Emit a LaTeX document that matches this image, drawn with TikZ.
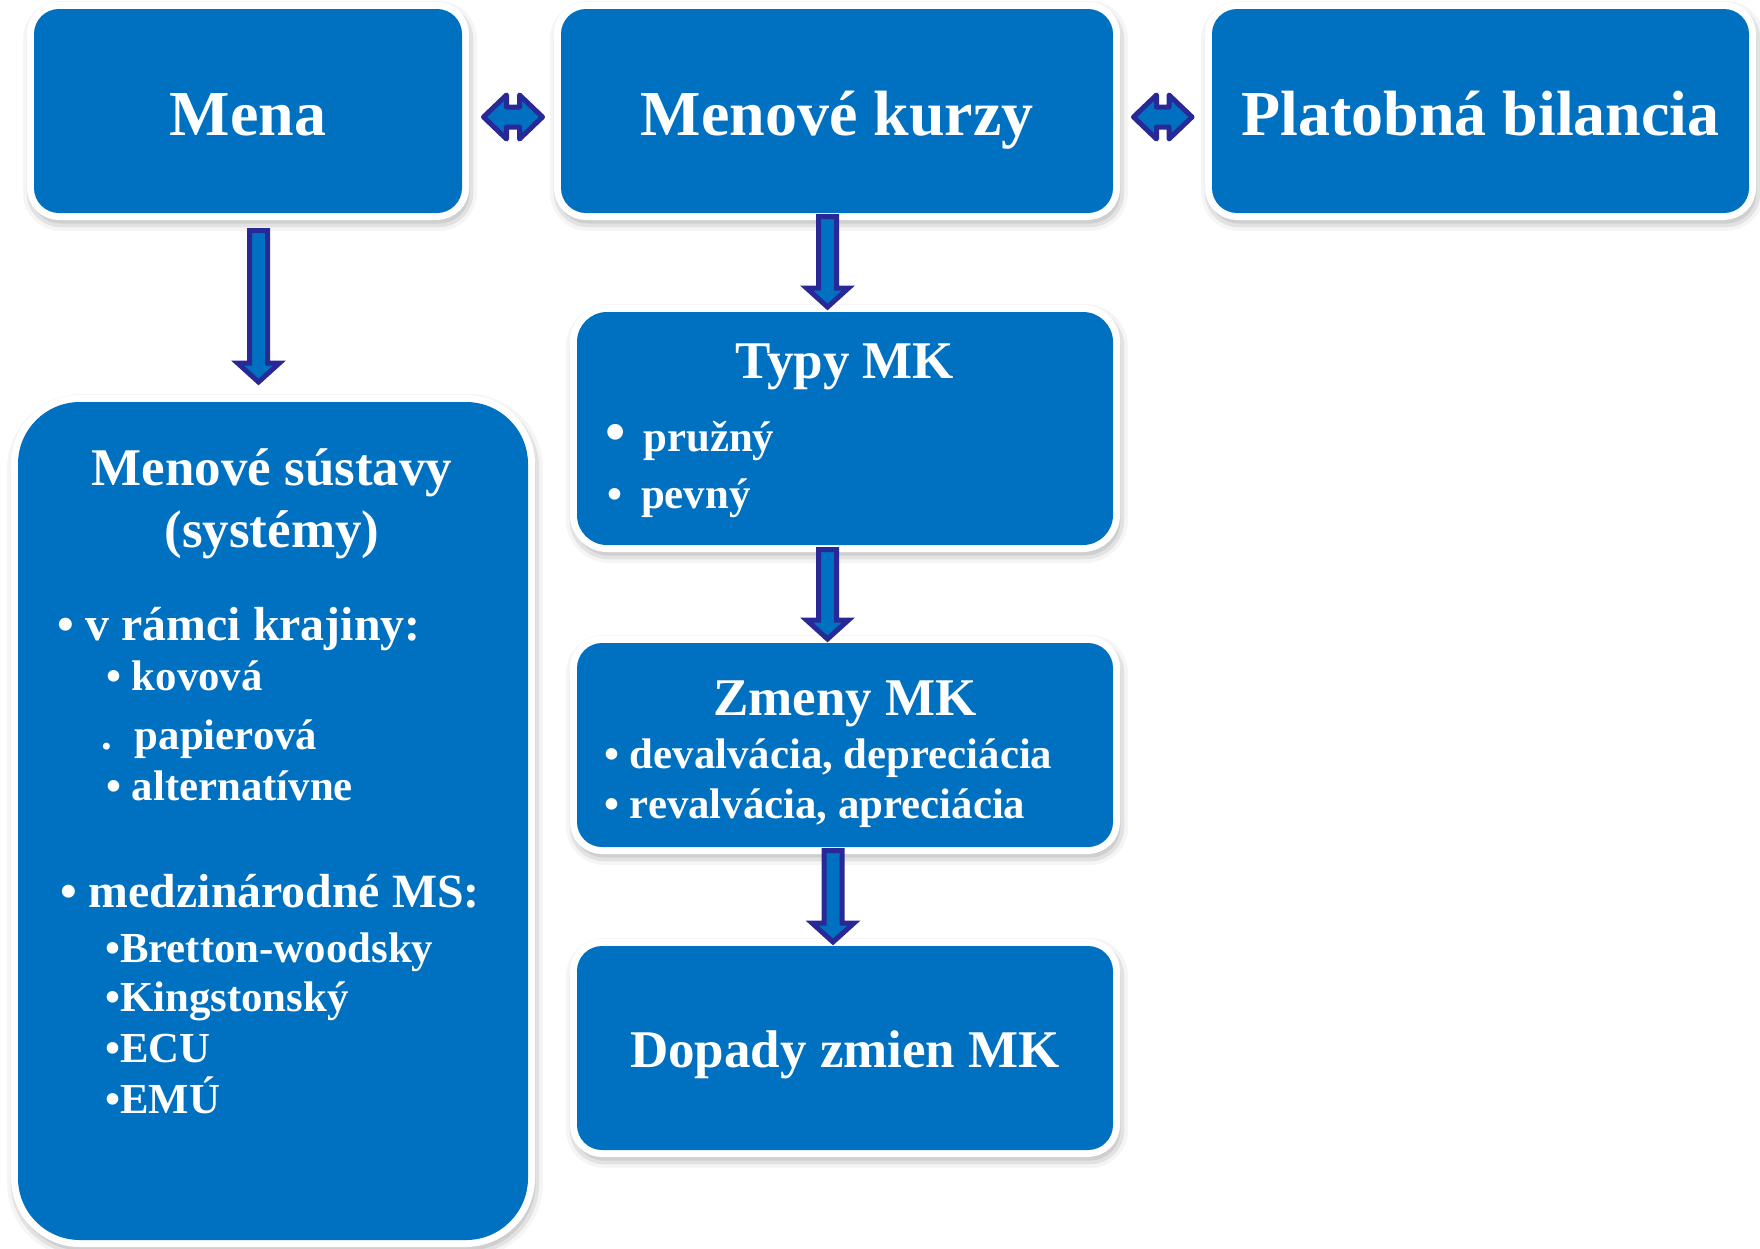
\documentclass[tikz,border=0pt]{standalone}
\usepackage{fontspec}
\setmainfont{Liberation Serif}
\usetikzlibrary{calc,shadows.blur}

\definecolor{boxblue}{RGB}{0,112,192}
\definecolor{arrowline}{RGB}{40,40,150}

\tikzset{
  box/.style={rectangle, rounded corners=25pt, fill=boxblue, inner sep=0pt, outer sep=0pt,
    blur shadow={shadow xshift=2pt, shadow yshift=-5pt, shadow blur radius=13pt, shadow opacity=60},
    preaction={draw=white, line width=14pt}, text=white},
  bigfont/.style={font=\fontsize{64}{70}\selectfont\bfseries, text height=48pt, text depth=0pt},
  headfont/.style={font=\fontsize{53}{58}\selectfont\bfseries},
  head/.style={headfont, text=white, inner sep=0pt, anchor=base},
  item/.style={font=\fontsize{42.8}{46}\selectfont\bfseries, text=white, inner sep=0pt, anchor=base west},
  mainitem/.style={item, font=\fontsize{47.8}{52}\selectfont\bfseries},
  downblock/.style={draw=arrowline, line width=5pt, fill=boxblue,
    to path={let \p1=(\tikztostart), \p2=(\tikztotarget) in
      (\x1-9pt,\y1) -- (\x1+9pt,\y1) -- (\x1+9pt,\y2+19pt) -- (\x1+21pt,\y2+19pt) -- (\x1,\y2)
      -- (\x1-21pt,\y2+19pt) -- (\x1-9pt,\y2+19pt) -- cycle}},
  lrblock/.style={draw=arrowline, line width=5pt, fill=boxblue, line join=round,
    to path={let \p1=(\tikztostart), \p2=(\tikztotarget) in
      (\x1,\y1) -- (\x1+23pt,\y1+22pt) -- (\x1+23pt,\y1+10pt) -- (\x2-23pt,\y1+10pt) -- (\x2-23pt,\y1+22pt)
      -- (\x2,\y1) -- (\x2-23pt,\y1-22pt) -- (\x2-23pt,\y1-10pt) -- (\x1+23pt,\y1-10pt) -- (\x1+23pt,\y1-22pt) -- cycle}}
}

\begin{document}
\begin{tikzpicture}[x=1pt,y=-1pt]
\useasboundingbox (0,0) rectangle (1760,1248);

% top row
\node[box, bigfont, minimum width=428pt, minimum height=204pt] (mena) at (248,111) {Mena};
\node[box, bigfont, minimum width=552pt, minimum height=204pt] (kurzy) at (837,111) {Menové kurzy};
\node[box, bigfont, minimum width=537pt, minimum height=204pt] (bilancia) at (1480.5,111) {Platobná bilancia};

% left column
\node[box, rounded corners=62pt, minimum width=510pt, minimum height=838pt] (sustavy) at (273,821) {};
\node[head] (s1) at (272,485) {Menové sústavy};
\node[head] (s2) at (272,547) {(systémy)};
\node[mainitem] (s3) at (57,640) {• v rámci krajiny:};
\node[item] (s4) at (106,690) {• kovová};
\node[item] (s5) at (101,749) {.\hspace{23pt}papierová};
\node[item] (s6) at (106,800) {• alternatívne};
\node[mainitem] (s7) at (60,907) {• medzinárodné MS:};
\node[item] (s8) at (105,962) {•Bretton-woodsky};
\node[item] (s9) at (105,1011) {•Kingstonský};
\node[item] (s10) at (105,1062) {•ECU};
\node[item] (s11) at (105,1113) {•EMÚ};

% middle column
\node[box, rounded corners=30pt, minimum width=536pt, minimum height=233pt] (typy) at (845,428.5) {};
\node[head] (t1) at (845,378) {Typy MK};
\node[item] (t2) at (605,451) {{\fontsize{58}{60}\selectfont •}\hspace{18pt}pružný};
\node[item] (t3) at (607,508) {•\hspace{19pt}pevný};

\node[box, minimum width=536pt, minimum height=204pt] (zmeny) at (845,745) {};
\node[head] (z1) at (845,715) {Zmeny MK};
\node[item] (z2) at (604,768) {• devalvácia, depreciácia};
\node[item] (z3) at (604,818) {• revalvácia, apreciácia};

\node[box, headfont, text height=38pt, text depth=0pt, minimum width=536pt, minimum height=204pt] (dopady) at (845,1048) {Dopady zmien MK};

% arrows
\coordinate (a1) at ([xshift=10.5pt,yshift=-17.5pt]mena.south);
\coordinate (a2) at ([yshift=20pt]sustavy.north);
\coordinate (b1) at ([xshift=-9.5pt,yshift=-3.5pt]kurzy.south);
\coordinate (b2) at ([yshift=5pt]typy.north);
\coordinate (c1) at ([xshift=-17.5pt,yshift=-4.5pt]typy.south);
\coordinate (c2) at ([yshift=4pt]zmeny.north);
\coordinate (d1) at ([xshift=-12pt,yshift=-3.5pt]zmeny.south);
\coordinate (d2) at ([yshift=4pt]dopady.north);
\coordinate (e1) at ([xshift=21.5pt,yshift=-6pt]mena.east);
\coordinate (e2) at ([xshift=-18.5pt]kurzy.west);
\coordinate (f1) at ([xshift=20.5pt,yshift=-6pt]kurzy.east);
\coordinate (f2) at ([xshift=-20pt]bilancia.west);

\draw[downblock] (a1) to (a2);
\draw[downblock] (b1) to (b2);
\draw[downblock] (c1) to (c2);
\draw[downblock] (d1) to (d2);
\draw[lrblock] (e1) to (e2);
\draw[lrblock] (f1) to (f2);

\end{tikzpicture}
\end{document}
